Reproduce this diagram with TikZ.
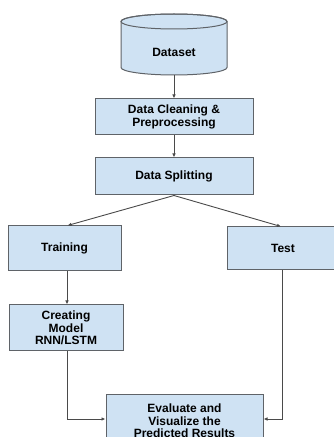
\documentclass[tikz,border=0pt]{standalone}
\usepackage{fontspec}
\setmainfont{Liberation Sans}
\usetikzlibrary{arrows.meta,positioning}
\definecolor{boxfill}{HTML}{CFE2F3}
\definecolor{boxline}{HTML}{5F6368}
\definecolor{arrowline}{HTML}{4A4A4A}
\begin{document}
\begin{tikzpicture}[x=1pt,y=1pt,
  box/.style={draw=boxline, line width=1pt, fill=boxfill, align=center,
    font=\fontsize{12}{12.6}\selectfont\bfseries, inner sep=0pt},
  conn/.style={draw=arrowline, line width=0.9pt, -{Latex[length=4pt,width=3.5pt]}}]
\clip (0,0) rectangle (334,437);
\fill[white] (0,0) rectangle (334,437);
% cylinder
\path[fill=boxfill, draw=boxline, line width=1pt]
  (121pt,415.5pt) -- (121pt,369.5pt)
  arc[start angle=180,end angle=360,x radius=53pt,y radius=7.5pt]
  -- (227pt,415.5pt)
  arc[start angle=0,end angle=180,x radius=53pt,y radius=7.5pt] -- cycle;
\draw[boxline, line width=1pt] (174,415.5) ellipse [x radius=53pt, y radius=7.5pt];
\node[font=\fontsize{12}{12.6}\selectfont\bfseries] (ds) at (174,385) {Dataset};
\coordinate (dsb) at (174,362);
% boxes
\node[box, minimum width=158pt, minimum height=36pt] (clean) at (174,320) {Data Cleaning \&\\Preprocessing};
\node[box, minimum width=158pt, minimum height=37pt] (split) at (174,260.5) {Data Splitting};
\node[box, minimum width=113pt, minimum height=45pt] (train) at (64.5,188.5) {Training};
\node[box, minimum width=112pt, minimum height=43pt] (test) at (283,188.5) {Test};
\node[box, minimum width=114pt, minimum height=46pt] (model) at (66,109) {Creating\\Model\\RNN/LSTM};
\node[box, minimum width=157pt, minimum height=52pt] (eval) at (184.5,16) {Evaluate and\\Visualize the\\Predicted Results};
% connectors
\draw[conn] (dsb) -- (clean.north);
\draw[conn] (clean.south) -- (split.north);
\draw[conn] (split.south) -- ([xshift=3pt]train.north);
\draw[conn] (split.south) -- ([xshift=-2pt]test.north);
\draw[conn] ([xshift=2.5pt]train.south) -- ([xshift=1pt]model.north);
\draw[conn] ([xshift=1pt]model.south) |- ([yshift=2pt]eval.west);
\draw[conn] ([xshift=-1pt]test.south) |- ([yshift=2pt]eval.east);
\end{tikzpicture}
\end{document}
